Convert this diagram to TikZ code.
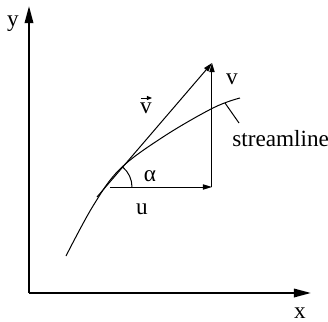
\documentclass[tikz,border=0pt]{standalone}
\usepackage{fontspec}
\setmainfont{Liberation Serif}
\usetikzlibrary{arrows.meta}
\begin{document}
\begin{tikzpicture}[x=0.5pt,y=-0.5pt,
  axis/.style={line width=1pt,-{Triangle[length=8.5pt,width=4.2pt]}},
  vec/.style={line width=0.5pt,-{Triangle[length=4.5pt,width=2.6pt]}},
  accent/.style={line width=0.5pt,-{Triangle[length=2.5pt,width=2pt]}},
  thin/.style={line width=0.5pt},
  lbl/.style={inner sep=0pt,font=\fontsize{11.6}{13}\selectfont}]
\useasboundingbox (0,0) rectangle (328,322);
\coordinate (O) at (29,293);
\coordinate (Ytip) at (29,6);
\coordinate (Xtip) at (311,293);
\draw[axis] (O) -- (Ytip);
\draw[axis] (O) -- (Xtip);
\node[lbl] (ylab) at (13,24) {y};
\node[lbl] (xlab) at (300,313) {x};
% streamline
\draw[thin] plot[smooth,tension=0.6] coordinates {(66,256) (93,206) (120,169) (163,137) (213,108) (240,98)};
% vectors
\coordinate (A) at (97,197);
\coordinate (P) at (110,187);
\coordinate (Q) at (212,187);
\coordinate (R) at (212,63);
\draw[vec] (A) -- (R);
\draw[vec] (P) -- (Q);
\draw[vec] (Q) -- (R);
% angle arc
\draw[thin] (132,187) arc[start angle=0,end angle=-50,radius=26];
\node[lbl] (alpha) at (150,176) {α};
\node[lbl] (ulab) at (142,209) {u};
\node[lbl] (vlab) at (232,79) {v};
\node[lbl] (vvec) at (146,108) {v};
\coordinate (V1) at (141,98);
\coordinate (V2) at (152,98);
\draw[accent] (V1) -- (V2);
% streamline label
\coordinate (L1) at (225,103);
\coordinate (L2) at (239,123);
\draw[thin] (L1) -- (L2);
\node[lbl,anchor=west] (slab) at (232,139) {streamline};
\end{tikzpicture}
\end{document}
